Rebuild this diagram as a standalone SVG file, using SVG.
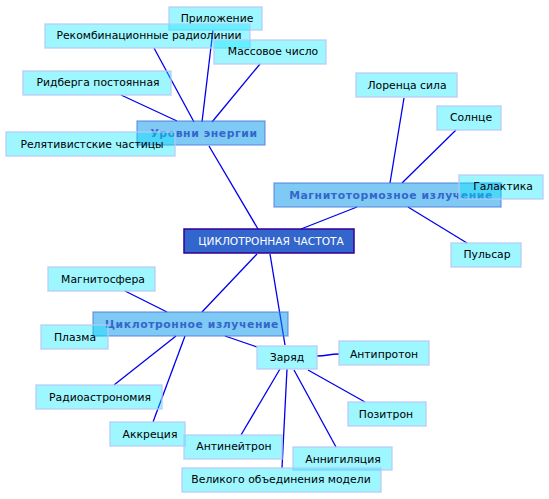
<svg xmlns="http://www.w3.org/2000/svg" width="549" height="499" viewBox="0 0 549 499">
<style>
text{font-family:"DejaVu Sans","Liberation Sans",sans-serif;font-size:10.8px;text-anchor:middle;dominant-baseline:central}
.leaf rect{fill:rgb(0,235,255);fill-opacity:0.38;stroke:#b8c8f8;stroke-opacity:0.8;stroke-width:1.5}
.leaf text{fill:#000}
.mid rect{fill:rgb(0,150,235);fill-opacity:0.5;stroke:#4a78d8;stroke-opacity:0.6;stroke-width:1.5}
.mid text{fill:#3366cc;font-weight:bold;letter-spacing:0.6px;font-size:10.8px}
.root rect{fill:#3366cc;stroke:#330099;stroke-width:1.5}
.root text{fill:#fff;font-size:10.6px}
#edges line,#edges path{stroke:#0000ee;stroke-width:1.3;fill:none}
</style>
<g id="edges">
<line x1="209" y1="146" x2="258" y2="229"/>
<line x1="194" y1="122" x2="154" y2="48"/>
<line x1="202" y1="122" x2="213" y2="30"/>
<line x1="212" y1="122" x2="260" y2="64"/>
<line x1="177" y1="121" x2="121" y2="95"/>
<line x1="357" y1="207" x2="301" y2="229"/>
<line x1="390" y1="183" x2="404" y2="98"/>
<line x1="402" y1="183" x2="456" y2="130"/>
<line x1="408" y1="207" x2="467" y2="243"/>
<line x1="257" y1="254" x2="202" y2="312"/>
<line x1="270" y1="254" x2="285" y2="345"/>
<line x1="125" y1="291" x2="167" y2="312"/>
<line x1="225" y1="336" x2="257" y2="347"/>
<line x1="176" y1="336" x2="114" y2="385"/>
<line x1="185" y1="336" x2="153" y2="422"/>
<path d="M317 356 C328 356 328 354 339 354"/>
<line x1="308" y1="370" x2="365" y2="402"/>
<line x1="294" y1="370" x2="336" y2="447"/>
<line x1="287" y1="369" x2="282" y2="468"/>
<line x1="280" y1="369" x2="241" y2="435"/>
</g>
<g id="n-root" class="root"><rect x="184" y="229" width="170" height="24"/><text x="271" y="241">ЦИКЛОТРОННАЯ ЧАСТОТА</text></g>
<g id="n-levels" class="mid"><rect x="137" y="121" width="128" height="24"/><text x="204" y="133">Уровни энергии</text></g>
<g id="n-magn" class="mid"><rect x="274" y="183" width="227" height="24"/><text x="391" y="195">Магнитотормозное излучение</text></g>
<g id="n-cycl" class="mid"><rect x="93" y="312" width="195" height="24"/><text x="192" y="324">Циклотронное излучение</text></g>
<g id="n-zaryad" class="leaf"><rect x="257" y="346" width="60" height="23"/><text x="287" y="357">Заряд</text></g>
<g id="n-prilozh" class="leaf"><rect x="169" y="7" width="93" height="23"/><text x="217" y="18">Приложение</text></g>
<g id="n-rekomb" class="leaf"><rect x="45" y="24" width="205" height="24"/><text x="149" y="35">Рекомбинационные радиолинии</text></g>
<g id="n-massa" class="leaf"><rect x="214" y="40" width="112" height="24"/><text x="273" y="51">Массовое число</text></g>
<g id="n-ridberg" class="leaf"><rect x="23" y="71" width="148" height="24"/><text x="98" y="82">Ридберга постоянная</text></g>
<g id="n-relat" class="leaf"><rect x="6" y="132" width="169" height="24"/><text x="92" y="144">Релятивистские частицы</text></g>
<g id="n-lorentz" class="leaf"><rect x="356" y="73" width="101" height="24"/><text x="407" y="85">Лоренца сила</text></g>
<g id="n-sun" class="leaf"><rect x="437" y="106" width="64" height="24"/><text x="471" y="117">Солнце</text></g>
<g id="n-galaxy" class="leaf"><rect x="459" y="175" width="84" height="24"/><text x="503" y="186">Галактика</text></g>
<g id="n-pulsar" class="leaf"><rect x="451" y="243" width="70" height="24"/><text x="487" y="254">Пульсар</text></g>
<g id="n-magnetosph" class="leaf"><rect x="48" y="267" width="107" height="24"/><text x="103" y="279">Магнитосфера</text></g>
<g id="n-plasma" class="leaf"><rect x="41" y="325" width="67" height="24"/><text x="75" y="337">Плазма</text></g>
<g id="n-radio" class="leaf"><rect x="36" y="385" width="126" height="24"/><text x="100" y="397">Радиоастрономия</text></g>
<g id="n-accr" class="leaf"><rect x="110" y="422" width="75" height="24"/><text x="150" y="434">Аккреция</text></g>
<g id="n-antiproton" class="leaf"><rect x="339" y="341" width="90" height="24"/><text x="384" y="354">Антипротон</text></g>
<g id="n-positron" class="leaf"><rect x="348" y="402" width="78" height="24"/><text x="386" y="414">Позитрон</text></g>
<g id="n-antineutron" class="leaf"><rect x="184" y="435" width="98" height="24"/><text x="234" y="446">Антинейтрон</text></g>
<g id="n-annih" class="leaf"><rect x="293" y="447" width="99" height="23"/><text x="343" y="459">Аннигиляция</text></g>
<g id="n-gut" class="leaf"><rect x="182" y="468" width="199" height="24"/><text x="281" y="479">Великого объединения модели</text></g>
</svg>
